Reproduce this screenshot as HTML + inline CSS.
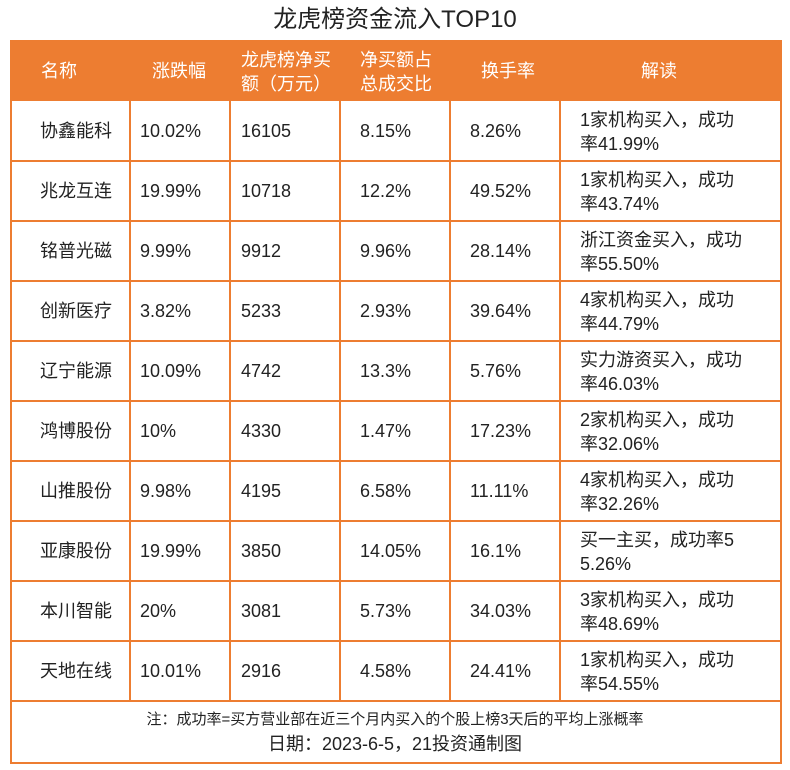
<!DOCTYPE html>
<html><head><meta charset="utf-8"><style>
body{margin:0;width:790px;height:770px;background:#fff;font-family:"Liberation Sans","Noto Sans CJK SC",sans-serif;position:relative;overflow:hidden;color:#222}
.t{position:absolute;white-space:nowrap;font-size:18px;line-height:24px}
#title{position:absolute;left:0;width:790px;top:4px;text-align:center;font-size:24px;line-height:32px;color:#222}
#frame{position:absolute;left:10px;top:40px;width:768px;height:722px;border:2px solid #ED7D31;border-top:none}
#head{position:absolute;left:10px;top:40px;width:772px;height:61px;background:#ED7D31}
.h{color:#fff}
.hl{position:absolute;left:10px;width:770px;height:2px;background:#ED7D31}
.vl{position:absolute;top:101px;height:600px;width:2px;background:#ED7D31}
</style></head><body>
<div id="title">龙虎榜资金流入TOP10</div>
<div id="frame"></div>
<div id="head"></div>
<div class="t h" style="left:41px;top:59px">名称</div>
<div class="t h" style="left:152px;top:59px">涨跌幅</div>
<div class="t h" style="left:241px;top:48px">龙虎榜净买<br>额（万元）</div>
<div class="t h" style="left:360px;top:48px">净买额占<br>总成交比</div>
<div class="t h" style="left:481px;top:59px">换手率</div>
<div class="t h" style="left:641px;top:59px">解读</div>
<div id="rows"></div>
<div class="t" style="left:0;width:790px;text-align:center;top:708px;font-size:15px">注：成功率=买方营业部在近三个月内买入的个股上榜3天后的平均上涨概率</div>
<div class="t" style="left:0;width:790px;text-align:center;top:732px;font-size:18px">日期：2023-6-5，21投资通制图</div>
<script>
const names=["协鑫能科","兆龙互连","铭普光磁","创新医疗","辽宁能源","鸿博股份","山推股份","亚康股份","本川智能","天地在线"];
const changes=["10.02%","19.99%","9.99%","3.82%","10.09%","10%","9.98%","19.99%","20%","10.01%"];
const netBuy=["16105","10718","9912","5233","4742","4330","4195","3850","3081","2916"];
const ratios=["8.15%","12.2%","9.96%","2.93%","13.3%","1.47%","6.58%","14.05%","5.73%","4.58%"];
const turnovers=["8.26%","49.52%","28.14%","39.64%","5.76%","17.23%","11.11%","16.1%","34.03%","24.41%"];
const notes1=["1家机构买入，成功","1家机构买入，成功","浙江资金买入，成功","4家机构买入，成功","实力游资买入，成功","2家机构买入，成功","4家机构买入，成功","买一主买，成功率5","3家机构买入，成功","1家机构买入，成功"];
const notes2=["率41.99%","率43.74%","率55.50%","率44.79%","率46.03%","率32.06%","率32.26%","5.26%","率48.69%","率54.55%"];
const rows=document.getElementById('rows');
const colX=[40,140,241,360,470,580];
function add(txt,x,y,name){const d=document.createElement('div');d.className='t';d.style.left=x+'px';d.style.top=y+'px';d.innerHTML=txt;


rows.appendChild(d);}
for(let i=0;i<names.length;i++){
 const top=101+i*60;
 const l=document.createElement('div');l.className='hl';l.style.top=(top+59)+'px';
 
 
 rows.appendChild(l);
 const cy=top+18;
 add(names[i],colX[0],cy,'cell-name');
 add(changes[i],colX[1],cy,'cell-change');
 add(netBuy[i],colX[2],cy,'cell-net-buy');
 add(ratios[i],colX[3],cy,'cell-ratio');
 add(turnovers[i],colX[4],cy,'cell-turnover');
 add(notes1[i]+'<br>'+notes2[i],colX[5],top+7,'cell-interpretation');
}
[129,229,339,449,559].forEach(x=>{const v=document.createElement('div');v.className='vl';v.style.left=x+'px';


rows.appendChild(v);});
</script>
</body></html>
